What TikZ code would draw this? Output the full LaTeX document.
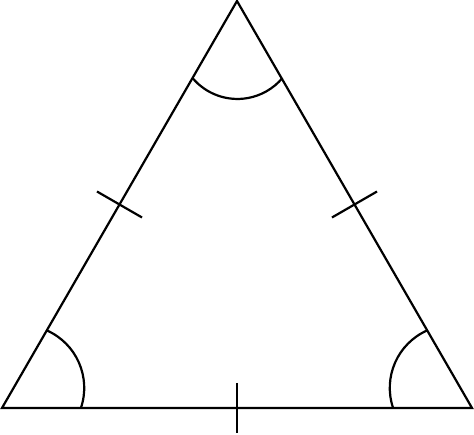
\documentclass[tikz,border=0pt]{standalone}
\usetikzlibrary{calc}
\begin{document}
\begin{tikzpicture}[x=1pt,y=1pt,
  edge/.style={line width=2.2pt,line join=miter,line cap=butt},
  anglemark/.style={line width=2.2pt},
  tickmark/.style={line width=2.2pt}]
\useasboundingbox (0,0) rectangle (474,435);
\coordinate (L) at (2,27);
\coordinate (R) at (472,27);
\coordinate (T) at (237,434);
% sides
\draw[edge] (L) -- (R) -- (T) -- cycle;
% angle marks
\draw[anglemark] (80.9,27) arc[start angle=-18.7,end angle=66.4,radius=62.8];
\draw[anglemark] (393.1,27) arc[start angle=198.7,end angle=113.6,radius=62.8];
\draw[anglemark] (192.5,357) arc[start angle=220,end angle=320,radius=58.7];
% equal-side ticks
\coordinate (ML) at ($(L)!0.5!(T)$);
\coordinate (MR) at ($(R)!0.5!(T)$);
\coordinate (MB) at ($(L)!0.5!(R)$);
\draw[tickmark] ($(ML)!26pt!90:(T)$) -- ($(ML)!26pt!-90:(T)$);
\draw[tickmark] ($(MR)!26pt!90:(T)$) -- ($(MR)!26pt!-90:(T)$);
\draw[tickmark] ($(MB)!25pt!90:(R)$) -- ($(MB)!25pt!-90:(R)$);
\end{tikzpicture}
\end{document}
